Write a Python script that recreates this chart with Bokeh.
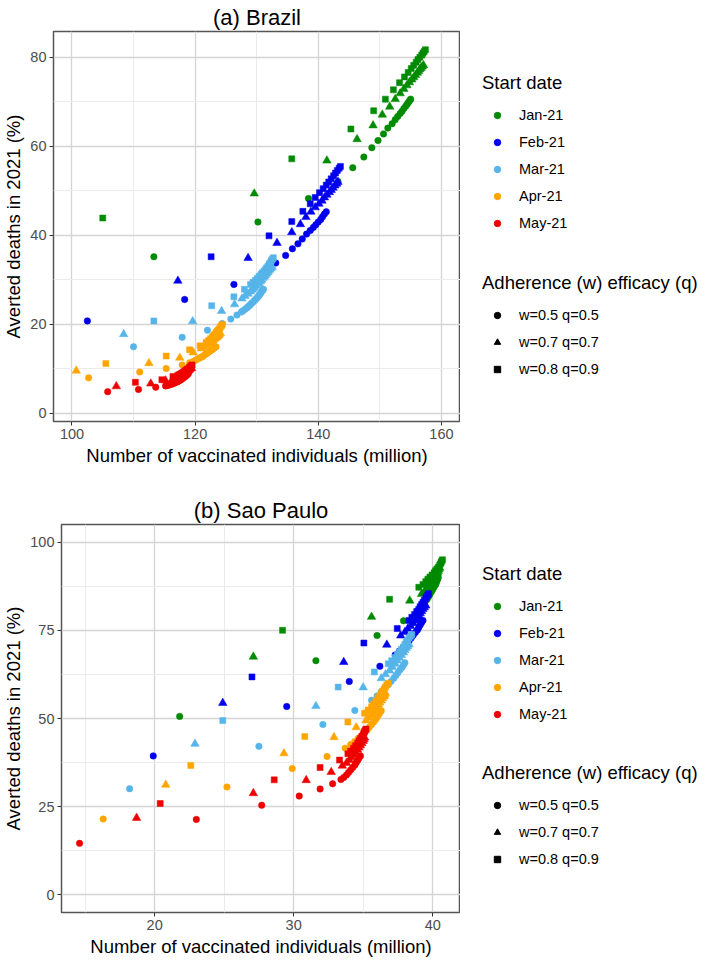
from bokeh.plotting import figure
from bokeh.models import FixedTicker, Legend, LegendItem, Range1d
from bokeh.layouts import row, column
from bokeh.embed import file_html
from bokeh.resources import INLINE

FONT = "Liberation Sans"

# ---------------- categories ----------------
DATES = ["Jan-21", "Feb-21", "Mar-21", "Apr-21", "May-21"]
DATE_COLORS = ["#008B00", "#0000EE", "#56B4E9", "#FFA500", "#EE0000"]
SCENARIOS = ["w=0.5 q=0.5", "w=0.7 q=0.7", "w=0.8 q=0.9"]
MARKERS = ["circle", "triangle", "square"]
MARKER_SIZES = [6.5, 8.5, 6]

# ---------------- ticks ----------------
BR_X_TICKS = [100, 120, 140, 160]
BR_X_MINOR = [110, 130, 150]
BR_Y_TICKS = [0, 20, 40, 60, 80]
BR_Y_MINOR = [10, 30, 50, 70]
SP_X_TICKS = [20, 30, 40]
SP_X_MINOR = [15, 25, 35]
SP_Y_TICKS = [0, 25, 50, 75, 100]
SP_Y_MINOR = [12.5, 37.5, 62.5, 87.5]

# ---------------- (a) Brazil ----------------
BR_JAN_C_X = [113.3, 130.2, 138.4, 143.2, 145.6, 147.4, 148.7, 149.7, 150.6, 151.3, 152.0, 152.5, 152.9, 153.3, 153.6, 153.9, 154.2, 154.4, 154.6, 154.8, 155.0]
BR_JAN_C_Y = [35.2, 43.0, 48.3, 52.1, 55.2, 57.6, 59.7, 61.3, 62.8, 64.1, 65.1, 66.0, 66.7, 67.4, 67.9, 68.5, 69.0, 69.4, 69.8, 70.2, 70.6]
BR_JAN_T_X = [129.6, 141.4, 146.3, 148.9, 150.4, 151.6, 152.5, 153.3, 153.9, 154.4, 154.8, 155.2, 155.5, 155.8, 156.1, 156.3, 156.5, 156.7, 156.9, 157.1]
BR_JAN_T_Y = [49.4, 56.8, 61.6, 64.7, 67.1, 68.9, 70.6, 71.9, 72.9, 73.7, 74.4, 75.0, 75.5, 76.0, 76.5, 76.9, 77.3, 77.6, 77.9, 78.2]
BR_JAN_S_X = [105.0, 135.7, 145.3, 149.0, 150.9, 152.2, 153.2, 154.0, 154.6, 155.1, 155.5, 155.9, 156.2, 156.5, 156.8, 157.0, 157.2, 157.4]
BR_JAN_S_Y = [43.9, 57.2, 63.9, 68.0, 70.6, 72.7, 74.3, 75.6, 76.6, 77.5, 78.2, 78.9, 79.5, 80.0, 80.5, 80.9, 81.3, 81.7]

BR_FEB_C_X = [102.5, 118.3, 126.3, 133.1, 134.7, 135.8, 136.7, 137.4, 138.1, 138.7, 139.2, 139.6, 140.0, 140.4, 140.7, 141.0, 141.3]
BR_FEB_C_Y = [20.8, 25.6, 29.0, 33.8, 35.5, 37.0, 38.1, 39.2, 40.3, 41.1, 41.8, 42.4, 43.0, 43.6, 44.2, 44.8, 45.3]
BR_FEB_T_X = [117.2, 128.6, 133.3, 135.7, 137.1, 138.0, 138.8, 139.5, 140.1, 140.6, 141.0, 141.4, 141.8, 142.1, 142.4, 142.7, 143.0, 143.2]
BR_FEB_T_Y = [29.8, 34.9, 38.3, 40.7, 42.5, 44.1, 45.3, 46.3, 47.1, 47.8, 48.5, 49.1, 49.7, 50.2, 50.7, 51.2, 51.6, 52.0]
BR_FEB_S_X = [122.6, 132.0, 135.7, 137.5, 138.7, 139.5, 140.2, 140.8, 141.3, 141.7, 142.1, 142.5, 142.8, 143.1, 143.4, 143.6]
BR_FEB_S_Y = [35.2, 39.9, 43.1, 45.4, 47.1, 48.5, 49.6, 50.5, 51.3, 52.0, 52.7, 53.4, 54.0, 54.6, 55.1, 55.5]

BR_MAR_C_X = [110.0, 117.9, 122.0, 124.4, 125.8, 126.8, 127.5, 127.8, 128.1, 128.4, 128.6, 128.8, 129.0, 129.2, 129.4, 129.6, 129.8, 130.0, 130.2, 130.4, 130.5, 130.7, 130.8, 131.0, 131.1]
BR_MAR_C_Y = [15.0, 17.1, 18.7, 20.2, 21.2, 22.1, 22.8, 23.1, 23.4, 23.7, 24.0, 24.2, 24.5, 24.8, 25.0, 25.3, 25.6, 25.9, 26.2, 26.5, 26.8, 27.1, 27.4, 27.7, 27.9]
BR_MAR_T_X = [108.4, 119.6, 124.3, 126.4, 127.6, 128.1, 128.6, 129.0, 129.3, 129.6, 129.9, 130.2, 130.4, 130.6, 130.8, 131.0, 131.2, 131.4, 131.6, 131.8, 131.9, 132.1, 132.2, 132.4, 132.5]
BR_MAR_T_Y = [17.8, 20.7, 23.0, 24.5, 25.8, 26.4, 26.9, 27.4, 27.8, 28.2, 28.6, 29.0, 29.3, 29.7, 30.0, 30.4, 30.7, 31.0, 31.4, 31.7, 32.0, 32.3, 32.5, 32.7, 32.9]
BR_MAR_S_X = [113.3, 122.7, 126.3, 128.0, 129.0, 129.4, 129.8, 130.1, 130.4, 130.7, 130.9, 131.2, 131.4, 131.6, 131.8, 132.0, 132.1, 132.3, 132.4, 132.6, 132.7]
BR_MAR_S_Y = [20.8, 24.2, 26.2, 27.9, 29.0, 29.5, 29.9, 30.4, 30.8, 31.2, 31.6, 32.0, 32.3, 32.7, 33.0, 33.4, 33.7, 34.1, 34.4, 34.7, 35.0]

BR_APR_C_X = [102.7, 111.0, 115.3, 117.9, 119.1, 119.7, 120.1, 120.5, 120.8, 121.1, 121.3, 121.6, 121.8, 122.0, 122.2, 122.4, 122.6, 122.8, 123.0, 123.2, 123.4]
BR_APR_C_Y = [8.0, 9.3, 10.1, 10.9, 11.4, 11.7, 12.0, 12.3, 12.5, 12.7, 12.9, 13.2, 13.4, 13.6, 13.8, 14.0, 14.2, 14.4, 14.6, 14.8, 15.0]
BR_APR_T_X = [100.7, 112.5, 117.5, 119.7, 121.0, 121.4, 121.8, 122.1, 122.4, 122.7, 122.9, 123.1, 123.3, 123.5, 123.6, 123.8, 123.9, 124.1]
BR_APR_T_Y = [9.6, 11.3, 12.5, 13.7, 14.6, 14.9, 15.3, 15.6, 15.9, 16.2, 16.4, 16.7, 16.9, 17.1, 17.3, 17.5, 17.7, 18.0]
BR_APR_S_X = [105.5, 115.3, 119.1, 120.8, 121.8, 122.2, 122.5, 122.8, 123.0, 123.2, 123.4, 123.6, 123.8, 124.0, 124.1, 124.3, 124.4]
BR_APR_S_Y = [11.2, 12.9, 14.3, 15.2, 16.0, 16.4, 16.8, 17.2, 17.5, 17.8, 18.2, 18.5, 18.8, 19.1, 19.4, 19.7, 20.0]

BR_MAY_C_X = [105.8, 110.8, 113.6, 115.2, 115.6, 116.0, 116.3, 116.6, 116.9, 117.1, 117.3, 117.5, 117.7, 117.9, 118.1, 118.3, 118.5, 118.6, 118.8, 118.9]
BR_MAY_C_Y = [4.9, 5.4, 5.9, 6.2, 6.3, 6.5, 6.6, 6.8, 7.0, 7.1, 7.3, 7.4, 7.6, 7.8, 8.0, 8.2, 8.4, 8.6, 8.8, 9.0]
BR_MAY_T_X = [107.2, 112.8, 115.2, 116.3, 116.6, 116.9, 117.2, 117.4, 117.6, 117.8, 118.0, 118.2, 118.4, 118.5, 118.7, 118.8, 119.0, 119.1, 119.3, 119.4]
BR_MAY_T_Y = [6.1, 6.7, 7.4, 7.6, 7.7, 7.9, 8.1, 8.2, 8.4, 8.5, 8.7, 8.8, 9.0, 9.2, 9.4, 9.5, 9.7, 9.9, 10.1, 10.2]
BR_MAY_S_X = [110.3, 114.6, 116.4, 117.2, 117.5, 117.7, 117.9, 118.1, 118.3, 118.5, 118.7, 118.8, 119.0, 119.1, 119.2, 119.3, 119.4, 119.5]
BR_MAY_S_Y = [7.0, 7.6, 8.3, 8.6, 8.8, 8.9, 9.1, 9.3, 9.5, 9.7, 9.9, 10.0, 10.2, 10.3, 10.5, 10.6, 10.8, 10.9]

# ---------------- (b) Sao Paulo ----------------
SP_JAN_C_X = [21.8, 31.6, 36.0, 37.9, 38.9, 39.1, 39.3, 39.45, 39.6, 39.7, 39.8, 39.9, 40.0, 40.1, 40.2, 40.25, 40.3, 40.35, 40.4]
SP_JAN_C_Y = [50.6, 66.4, 73.5, 77.7, 80.5, 81.4, 82.3, 83.0, 83.8, 84.5, 85.2, 85.9, 86.6, 87.3, 87.9, 88.4, 89.0, 89.5, 90.0]
SP_JAN_T_X = [27.1, 35.6, 38.35, 39.2, 39.4, 39.6, 39.75, 39.9, 40.0, 40.1, 40.2, 40.3, 40.35, 40.4, 40.45, 40.5]
SP_JAN_T_Y = [67.5, 78.8, 83.4, 85.3, 86.0, 86.8, 87.5, 88.2, 88.8, 89.5, 90.1, 90.7, 91.3, 91.8, 92.3, 92.7]
SP_JAN_S_X = [29.2, 36.9, 39.0, 39.3, 39.5, 39.65, 39.8, 39.95, 40.1, 40.2, 40.3, 40.4, 40.5, 40.55, 40.6, 40.65, 40.7]
SP_JAN_S_Y = [75.0, 83.8, 87.2, 88.0, 88.8, 89.5, 90.1, 90.7, 91.3, 91.9, 92.4, 92.9, 93.4, 93.8, 94.2, 94.6, 95.0]

SP_FEB_C_X = [19.9, 29.5, 34.0, 36.2, 37.3, 37.6, 37.9, 38.1, 38.3, 38.45, 38.6, 38.75, 38.9, 39.0, 39.1, 39.2, 39.3]
SP_FEB_C_Y = [39.4, 53.4, 60.5, 64.8, 68.0, 69.1, 70.2, 71.1, 72.0, 72.8, 73.6, 74.4, 75.1, 75.8, 76.5, 77.2, 77.8]
SP_FEB_T_X = [24.9, 33.6, 36.7, 37.7, 38.0, 38.2, 38.4, 38.6, 38.75, 38.9, 39.0, 39.1, 39.2, 39.3, 39.4, 39.5]
SP_FEB_T_Y = [54.4, 66.0, 70.9, 73.5, 74.5, 75.4, 76.2, 77.0, 77.8, 78.5, 79.2, 79.8, 80.4, 81.0, 81.5, 82.0]
SP_FEB_S_X = [27.0, 35.05, 37.45, 38.3, 38.5, 38.7, 38.85, 39.0, 39.1, 39.2, 39.3, 39.4, 39.5, 39.55, 39.65, 39.7]
SP_FEB_S_Y = [61.8, 71.4, 75.5, 77.8, 78.7, 79.5, 80.3, 81.0, 81.7, 82.3, 82.9, 83.5, 84.0, 84.5, 85.0, 85.4]

SP_MAR_C_X = [18.2, 27.5, 32.1, 34.4, 35.6, 36.0, 36.3, 36.55, 36.8, 37.0, 37.2, 37.35, 37.5, 37.65, 37.8, 37.9, 38.0]
SP_MAR_C_Y = [30.1, 42.1, 48.3, 52.3, 55.2, 56.4, 57.6, 58.6, 59.6, 60.5, 61.4, 62.2, 63.0, 63.8, 64.5, 65.2, 65.8]
SP_MAR_T_X = [22.9, 31.6, 35.0, 36.3, 36.6, 36.9, 37.1, 37.3, 37.45, 37.6, 37.75, 37.9, 38.0, 38.1, 38.2, 38.3]
SP_MAR_T_Y = [42.8, 53.5, 58.8, 61.4, 62.5, 63.6, 64.6, 65.5, 66.4, 67.2, 68.0, 68.7, 69.4, 70.0, 70.5, 71.0]
SP_MAR_S_X = [24.9, 33.2, 35.8, 36.8, 37.05, 37.3, 37.45, 37.6, 37.75, 37.9, 38.0, 38.1, 38.2, 38.3, 38.4, 38.5]
SP_MAR_S_Y = [49.4, 58.9, 63.2, 65.5, 66.4, 67.3, 68.1, 68.9, 69.6, 70.3, 71.0, 71.6, 72.2, 72.8, 73.3, 73.8]

SP_APR_C_X = [16.3, 25.2, 29.9, 32.4, 33.7, 34.1, 34.4, 34.65, 34.9, 35.1, 35.3, 35.45, 35.6, 35.75, 35.9, 36.0, 36.1, 36.2, 36.3]
SP_APR_C_Y = [21.5, 30.6, 35.8, 39.2, 41.6, 42.6, 43.5, 44.4, 45.2, 46.0, 46.8, 47.6, 48.3, 49.0, 49.7, 50.4, 51.0, 51.6, 52.2]
SP_APR_T_X = [20.8, 29.3, 32.9, 34.5, 35.2, 35.4, 35.6, 35.75, 35.9, 36.0, 36.1, 36.2, 36.3, 36.4, 36.5, 36.55, 36.6]
SP_APR_T_Y = [31.2, 40.1, 44.7, 47.5, 49.4, 50.2, 51.0, 51.8, 52.5, 53.2, 53.9, 54.5, 55.1, 55.7, 56.2, 56.7, 57.2]
SP_APR_S_X = [22.6, 30.8, 33.9, 35.1, 35.35, 35.6, 35.75, 35.9, 36.05, 36.2, 36.3, 36.4, 36.5, 36.6, 36.7, 36.8]
SP_APR_S_Y = [36.7, 44.9, 49.0, 51.5, 52.4, 53.3, 54.1, 54.9, 55.7, 56.4, 57.1, 57.7, 58.3, 58.9, 59.5, 60.0]

SP_MAY_C_X = [14.6, 23.0, 27.7, 30.4, 31.9, 32.8, 33.4, 33.6, 33.8, 33.95, 34.1, 34.25, 34.4, 34.5, 34.6, 34.7, 34.8]
SP_MAY_C_Y = [14.6, 21.4, 25.4, 28.0, 30.0, 31.5, 32.7, 33.3, 34.0, 34.7, 35.4, 36.1, 36.8, 37.5, 38.1, 38.8, 39.4]
SP_MAY_T_X = [18.7, 27.1, 30.9, 32.7, 33.5, 33.8, 34.0, 34.15, 34.3, 34.45, 34.6, 34.7, 34.8, 34.9, 35.0, 35.05, 35.1]
SP_MAY_T_Y = [21.8, 28.8, 32.5, 34.8, 36.6, 37.4, 38.2, 39.0, 39.7, 40.4, 41.1, 41.8, 42.4, 43.0, 43.6, 44.1, 44.6]
SP_MAY_S_X = [20.4, 28.6, 31.9, 33.3, 33.9, 34.1, 34.3, 34.45, 34.6, 34.7, 34.8, 34.9, 35.0, 35.05, 35.1, 35.15, 35.2]
SP_MAY_S_Y = [25.9, 32.6, 36.1, 38.2, 40.0, 40.8, 41.6, 42.3, 43.0, 43.7, 44.3, 44.9, 45.4, 45.9, 46.3, 46.7, 47.0]

BR_SERIES = [
    [(BR_JAN_C_X, BR_JAN_C_Y), (BR_JAN_T_X, BR_JAN_T_Y), (BR_JAN_S_X, BR_JAN_S_Y)],
    [(BR_FEB_C_X, BR_FEB_C_Y), (BR_FEB_T_X, BR_FEB_T_Y), (BR_FEB_S_X, BR_FEB_S_Y)],
    [(BR_MAR_C_X, BR_MAR_C_Y), (BR_MAR_T_X, BR_MAR_T_Y), (BR_MAR_S_X, BR_MAR_S_Y)],
    [(BR_APR_C_X, BR_APR_C_Y), (BR_APR_T_X, BR_APR_T_Y), (BR_APR_S_X, BR_APR_S_Y)],
    [(BR_MAY_C_X, BR_MAY_C_Y), (BR_MAY_T_X, BR_MAY_T_Y), (BR_MAY_S_X, BR_MAY_S_Y)],
]
SP_SERIES = [
    [(SP_JAN_C_X, SP_JAN_C_Y), (SP_JAN_T_X, SP_JAN_T_Y), (SP_JAN_S_X, SP_JAN_S_Y)],
    [(SP_FEB_C_X, SP_FEB_C_Y), (SP_FEB_T_X, SP_FEB_T_Y), (SP_FEB_S_X, SP_FEB_S_Y)],
    [(SP_MAR_C_X, SP_MAR_C_Y), (SP_MAR_T_X, SP_MAR_T_Y), (SP_MAR_S_X, SP_MAR_S_Y)],
    [(SP_APR_C_X, SP_APR_C_Y), (SP_APR_T_X, SP_APR_T_Y), (SP_APR_S_X, SP_APR_S_Y)],
    [(SP_MAY_C_X, SP_MAY_C_Y), (SP_MAY_T_X, SP_MAY_T_Y), (SP_MAY_S_X, SP_MAY_S_Y)],
]


def panel(title, series, xr, yr, xt, xmt, yt, ymt, fw, fh, left, bottom):
    p = figure(title=title, output_backend="svg", toolbar_location=None,
               frame_width=fw, frame_height=fh,
               x_range=Range1d(*xr), y_range=Range1d(*yr),
               min_border_left=left, min_border_right=0,
               min_border_top=24, min_border_bottom=bottom,
               x_axis_label="Number of vaccinated individuals (million)",
               y_axis_label="Averted deaths in 2021 (%)")
    p.title.align = "center"
    p.title.text_font = FONT
    p.title.text_font_size = "22px"
    p.title.text_font_style = "normal"
    p.title.text_color = "#000000"
    p.title.standoff = 4
    p.xaxis.ticker = FixedTicker(ticks=xt, minor_ticks=xmt)
    p.yaxis.ticker = FixedTicker(ticks=yt, minor_ticks=ymt)
    for ax in (p.xaxis[0], p.yaxis[0]):
        ax.axis_line_color = None
        ax.major_tick_line_color = "#333333"
        ax.major_tick_line_width = 1
        ax.major_tick_out = 4
        ax.major_tick_in = 0
        ax.minor_tick_line_color = None
        ax.major_label_text_font = FONT
        ax.major_label_text_font_size = "14.5px"
        ax.major_label_text_color = "#4D4D4D"
        ax.major_label_standoff = 3
        ax.axis_label_text_font = FONT
        ax.axis_label_text_font_size = "18.5px"
        ax.axis_label_text_font_style = "normal"
        ax.axis_label_text_color = "#000000"
        ax.axis_label_standoff = 3
    for g in (p.xgrid[0], p.ygrid[0]):
        g.grid_line_color = "#D4D4D4"
        g.grid_line_width = 1.3
        g.minor_grid_line_color = "#EBEBEB"
        g.minor_grid_line_width = 1
    p.outline_line_color = "#555555"
    p.outline_line_width = 1.5
    p.background_fill_color = "white"
    p.border_fill_color = "white"
    for color, date_series in zip(DATE_COLORS, series):
        for marker, size, (xs, ys) in zip(MARKERS, MARKER_SIZES, date_series):
            p.scatter(xs, ys, marker=marker, size=size, fill_color=color,
                      line_color=color, line_width=0.5)
    return p


LEG_STYLE = dict(title_text_font=FONT, title_text_font_size="18.5px",
                 title_text_font_style="normal", title_text_color="black",
                 label_text_font=FONT, label_text_font_size="14.5px", label_text_color="black",
                 glyph_width=30, glyph_height=16, label_height=24, spacing=3,
                 padding=5, title_standoff=9, label_standoff=7,
                 border_line_color=None, background_fill_alpha=0, margin=0,
                 location="top_left")


def legend_fig(height, top, title, labels, markers, colors):
    lf = figure(output_backend="svg", toolbar_location=None, width=239, height=height,
                x_range=Range1d(0, 1), y_range=Range1d(0, 1),
                min_border_left=22, min_border_top=top, min_border_right=0, min_border_bottom=0,
                x_axis_location=None, y_axis_location=None)
    lf.grid.visible = False
    lf.outline_line_color = None
    items = []
    for lab, m, c in zip(labels, markers, colors):
        # one off-canvas point so that the legend swatch is drawn
        r = lf.scatter(x=[-10], y=[-10], marker=m, size=6, fill_color=c, line_color=c)
        items.append(LegendItem(label=lab, renderers=[r]))
    lf.add_layout(Legend(items=items, title=title, **LEG_STYLE))
    return lf


def legend_column(top1, first_height, top2, total_height):
    l1 = legend_fig(first_height, top1, "Start date", DATES, ["circle"] * 5, DATE_COLORS)
    l2 = legend_fig(total_height - first_height, top2, "Adherence (w) efficacy (q)",
                    SCENARIOS, MARKERS, ["black"] * 3)
    return column(l1, l2)


pa = panel("(a) Brazil", BR_SERIES, (97.0, 163.1), (-1.8, 85.8),
           BR_X_TICKS, BR_X_MINOR, BR_Y_TICKS, BR_Y_MINOR, 407, 390, 46, 72)
pb = panel("(b) Sao Paulo", SP_SERIES, (13.3, 42.0), (-5.0, 105.0),
           SP_X_TICKS, SP_X_MINOR, SP_Y_TICKS, SP_Y_MINOR, 399, 388, 54, 44)

layout = column(row(pa, legend_column(72, 260, 12, 440)),
                row(pb, legend_column(70, 260, 9, 420)))
open("out.html", "w").write(file_html(layout, INLINE))
